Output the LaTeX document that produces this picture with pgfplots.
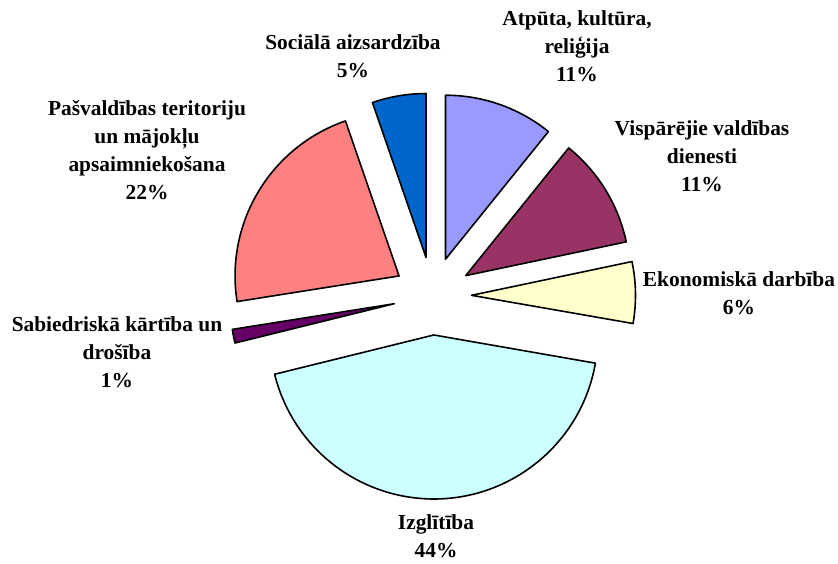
\documentclass[border=0pt]{standalone}
\usepackage{pgfplots}
\pgfplotsset{compat=1.18}
\usepackage{fontspec}
\setmainfont{Liberation Serif}
\definecolor{atp}{HTML}{9999FF}
\definecolor{vis}{HTML}{993366}
\definecolor{eko}{HTML}{FFFFCC}
\definecolor{izg}{HTML}{CCFFFF}
\definecolor{sab}{HTML}{660066}
\definecolor{pas}{HTML}{FF8080}
\definecolor{soc}{HTML}{0066CC}
\begin{document}
\begin{tikzpicture}
\begin{axis}[scale only axis, width=838pt, height=563pt,
  xmin=0, xmax=838, ymin=0, ymax=563, hide axis, clip=false]
\path (axis cs:0,0) rectangle (axis cs:838,563);
% slice values in percent, clockwise from 12 o'clock
\pgfplotsextra{
  \gdef\startang{90}
  \foreach \val/\col in {10.8/atp, 10.9/vis, 6.05/eko, 43.4/izg, 1.35/sab, 22.2/pas, 5.3/soc} {
    \pgfmathsetmacro\sweep{3.6*\val}
    \pgfmathsetmacro\endang{\startang-\sweep}
    \pgfmathsetmacro\midang{\startang-\sweep/2}
    \filldraw[fill=\col, draw=black, line width=1.6pt, line join=round]
      (axis cs:432.5,267) ++(\midang:39pt) -- ++(\startang:164pt)
      arc[start angle=\startang, end angle=\endang, radius=164pt] -- cycle;
    \xdef\startang{\endang}
  }
}
\tikzset{lbl/.style={align=center, inner sep=0pt, font=\bfseries\fontsize{21.4}{28}\selectfont}}
\node[lbl] at (axis cs:577,517) {Atpūta, kultūra,\\reliģija\\11\%};
\node[lbl] at (axis cs:702,407) {Vispārējie valdības\\dienesti\\11\%};
\node[lbl] at (axis cs:739,270) {Ekonomiskā darbība\\6\%};
\node[lbl] at (axis cs:436,27) {Izglītība\\44\%};
\node[lbl] at (axis cs:117,211) {Sabiedriskā kārtība un\\drošība\\1\%};
\node[lbl] at (axis cs:147,413) {Pašvaldības teritoriju\\un mājokļu\\apsaimniekošana\\22\%};
\node[lbl] at (axis cs:353,507) {Sociālā aizsardzība\\5\%};
\end{axis}
\end{tikzpicture}
\end{document}
